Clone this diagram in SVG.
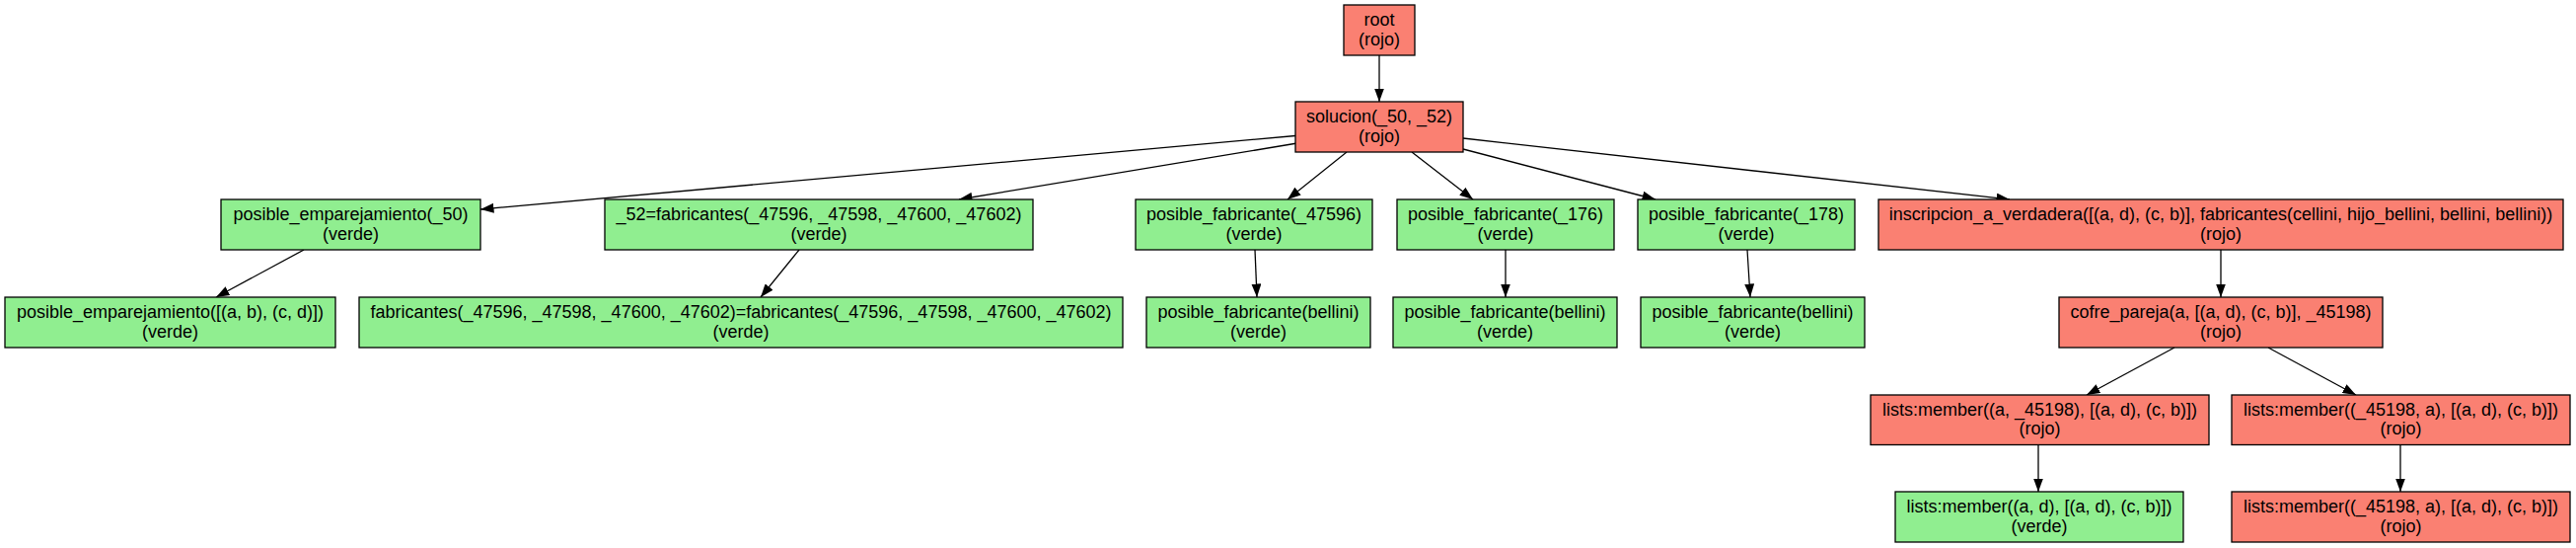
<svg xmlns="http://www.w3.org/2000/svg" width="2611" height="555" viewBox="0 0 2611 555">
<style>
.box{stroke:#000;stroke-width:1.3}
.rojo{fill:#fa8072}
.verde{fill:#90ee90}
text{font-family:"Liberation Sans",Arial,sans-serif;font-size:18px;fill:#000;text-anchor:middle}
.edge{stroke:#000;stroke-width:1.3;fill:none;marker-end:url(#arr)}
</style>
<defs>
<marker id="arr" markerUnits="userSpaceOnUse" markerWidth="14" markerHeight="10" refX="13.5" refY="5" orient="auto">
<path d="M0,0 L13.5,5 L0,10 z" fill="#000"/>
</marker>
</defs>
<rect width="2611" height="555" fill="#fff"/>
<g id="connectors">
<path class="edge" d="M1398,56 L1398,103"/>
<path class="edge" d="M1313,137.5 L487,212"/>
<path class="edge" d="M1315,145 L972,202"/>
<path class="edge" d="M1365,154 L1305,202"/>
<path class="edge" d="M1431,154 L1493,202"/>
<path class="edge" d="M1483,151 L1678,202"/>
<path class="edge" d="M1483,140 L2037,202"/>
<path class="edge" d="M308,253 L219,301"/>
<path class="edge" d="M810,253 L771,301"/>
<path class="edge" d="M1272,253 L1274,301"/>
<path class="edge" d="M1526,253 L1526,301"/>
<path class="edge" d="M1771,253 L1774,301"/>
<path class="edge" d="M2251,253 L2251,301"/>
<path class="edge" d="M2204,352 L2115,400"/>
<path class="edge" d="M2299,352 L2388,400"/>
<path class="edge" d="M2066,450 L2066,498"/>
<path class="edge" d="M2433,450 L2433,498"/>
</g>
<g id="root"><rect class="box rojo" x="1362" y="5" width="72" height="51"/><text x="1398" y="26.2">root</text><text x="1398" y="45.7">(rojo)</text></g>
<g id="solucion"><rect class="box rojo" x="1313" y="103" width="170" height="51"/><text x="1398" y="124.2">solucion(_50, _52)</text><text x="1398" y="143.7">(rojo)</text></g>
<g id="pe50"><rect class="box verde" x="224" y="202" width="263" height="51"/><text x="355.5" y="223.2">posible_emparejamiento(_50)</text><text x="355.5" y="242.7">(verde)</text></g>
<g id="n52"><rect class="box verde" x="613" y="202" width="434" height="51"/><text x="830" y="223.2">_52=fabricantes(_47596, _47598, _47600, _47602)</text><text x="830" y="242.7">(verde)</text></g>
<g id="pf47596"><rect class="box verde" x="1151" y="202" width="240" height="51"/><text x="1271" y="223.2">posible_fabricante(_47596)</text><text x="1271" y="242.7">(verde)</text></g>
<g id="pf176"><rect class="box verde" x="1416" y="202" width="220" height="51"/><text x="1526" y="223.2">posible_fabricante(_176)</text><text x="1526" y="242.7">(verde)</text></g>
<g id="pf178"><rect class="box verde" x="1660" y="202" width="220" height="51"/><text x="1770" y="223.2">posible_fabricante(_178)</text><text x="1770" y="242.7">(verde)</text></g>
<g id="inscripcion"><rect class="box rojo" x="1904" y="202" width="694" height="51"/><text x="2251" y="223.2">inscripcion_a_verdadera([(a, d), (c, b)], fabricantes(cellini, hijo_bellini, bellini, bellini))</text><text x="2251" y="242.7">(rojo)</text></g>
<g id="pe_ab_cd"><rect class="box verde" x="5" y="301" width="335" height="51"/><text x="172.5" y="322.2">posible_emparejamiento([(a, b), (c, d)])</text><text x="172.5" y="341.7">(verde)</text></g>
<g id="fab_eq"><rect class="box verde" x="364" y="301" width="774" height="51"/><text x="751" y="322.2">fabricantes(_47596, _47598, _47600, _47602)=fabricantes(_47596, _47598, _47600, _47602)</text><text x="751" y="341.7">(verde)</text></g>
<g id="pfb1"><rect class="box verde" x="1162" y="301" width="227" height="51"/><text x="1275.5" y="322.2">posible_fabricante(bellini)</text><text x="1275.5" y="341.7">(verde)</text></g>
<g id="pfb2"><rect class="box verde" x="1412" y="301" width="227" height="51"/><text x="1525.5" y="322.2">posible_fabricante(bellini)</text><text x="1525.5" y="341.7">(verde)</text></g>
<g id="pfb3"><rect class="box verde" x="1663" y="301" width="227" height="51"/><text x="1776.5" y="322.2">posible_fabricante(bellini)</text><text x="1776.5" y="341.7">(verde)</text></g>
<g id="cofre"><rect class="box rojo" x="2087" y="301" width="328" height="51"/><text x="2251" y="322.2">cofre_pareja(a, [(a, d), (c, b)], _45198)</text><text x="2251" y="341.7">(rojo)</text></g>
<g id="lm1"><rect class="box rojo" x="1896" y="400" width="343" height="50.5"/><text x="2067.5" y="420.7">lists:member((a, _45198), [(a, d), (c, b)])</text><text x="2067.5" y="440.2">(rojo)</text></g>
<g id="lm2"><rect class="box rojo" x="2262" y="400" width="343" height="50.5"/><text x="2433.5" y="420.7">lists:member((_45198, a), [(a, d), (c, b)])</text><text x="2433.5" y="440.2">(rojo)</text></g>
<g id="lmad"><rect class="box verde" x="1921" y="498" width="292" height="51"/><text x="2067" y="519.2">lists:member((a, d), [(a, d), (c, b)])</text><text x="2067" y="538.7">(verde)</text></g>
<g id="lm2b"><rect class="box rojo" x="2262" y="498" width="343" height="51"/><text x="2433.5" y="519.2">lists:member((_45198, a), [(a, d), (c, b)])</text><text x="2433.5" y="538.7">(rojo)</text></g>
</svg>
